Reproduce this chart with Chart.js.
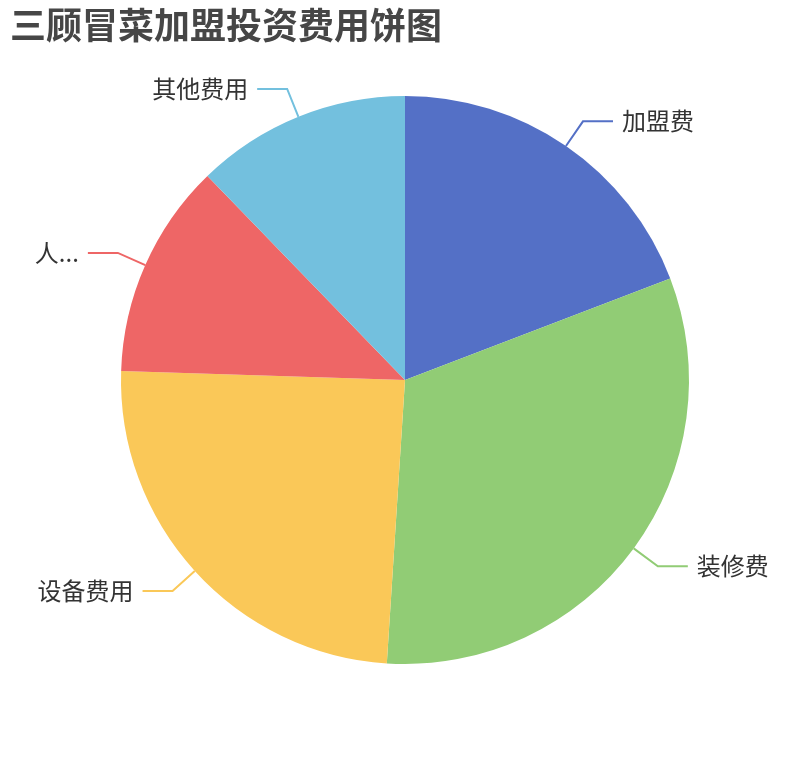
<!DOCTYPE html>
<html lang="zh-CN">
<head>
<meta charset="utf-8">
<title>三顾冒菜加盟投资费用饼图</title>
<script src="https://cdn.jsdelivr.net/npm/chart.js@4.4.1/dist/chart.umd.min.js"></script>
<style>
    html, body { margin: 0; padding: 0; background: #ffffff; }
    #wrap { width: 810px; height: 760px; }
</style>
</head>
<body>
<div id="wrap"><canvas id="pieChart" width="810" height="760"></canvas></div>
<script>
const chartTitle = '三顾冒菜加盟投资费用饼图';
const categories = ['加盟费', '装修费', '设备费用', '人员费用', '其他费用'];
const costValues = [4.7, 7.8, 6, 3, 3];
const sliceColors = ['#5470c6', '#91cc75', '#fac858', '#ee6666', '#73c0de'];

const FONT = '"Noto Sans CJK SC", "Noto Sans", sans-serif';
const LINE_LEN1 = 30;
const LINE_LEN2 = 30;
const LABEL_GAP = 9;
const EDGE_MARGIN = 25;

// shorten a label with '...' when it does not fit next to the edge
function truncate(ctx, text, maxWidth) {
    if (ctx.measureText(text).width <= maxWidth) return text;
    let s = text;
    while (s.length > 1 && ctx.measureText(s + '...').width > maxWidth) {
        s = s.slice(0, -1);
    }
    return s + '...';
}

// outside labels with two-segment leader lines
const outsideLabels = {
    id: 'outsideLabels',
    afterDatasetsDraw(chart) {
        const ctx = chart.ctx;
        const meta = chart.getDatasetMeta(0);

        ctx.save();
        ctx.font = '24px ' + FONT;
        ctx.textBaseline = 'middle';
        ctx.lineWidth = 2;

        meta.data.forEach((arc, i) => {
            const { x, y, startAngle, endAngle, outerRadius } = arc.getProps(
                ['x', 'y', 'startAngle', 'endAngle', 'outerRadius'],
                true
            );
            const mid = (startAngle + endAngle) / 2;
            const cos = Math.cos(mid);
            const sin = Math.sin(mid);

            const x1 = x + cos * outerRadius;
            const y1 = y + sin * outerRadius;
            const x2 = x + cos * (outerRadius + LINE_LEN1);
            const y2 = y + sin * (outerRadius + LINE_LEN1);
            const right = cos >= 0;
            const x3 = x2 + (right ? LINE_LEN2 : -LINE_LEN2);

            ctx.strokeStyle = sliceColors[i];
            ctx.beginPath();
            ctx.moveTo(x1, y1);
            ctx.lineTo(x2, y2);
            ctx.lineTo(x3, y2);
            ctx.stroke();

            const textX = right ? x3 + LABEL_GAP : x3 - LABEL_GAP;
            const avail = right
                ? chart.width - textX - EDGE_MARGIN
                : textX - EDGE_MARGIN;

            ctx.fillStyle = '#333333';
            ctx.textAlign = right ? 'left' : 'right';
            ctx.fillText(truncate(ctx, categories[i], avail), textX, y2);
        });

        ctx.restore();
    },
};

const titleFontSize = 36;
const titlePadding = { top: 4, bottom: 10 };
const titleHeight = titleFontSize * 1.2 + titlePadding.top + titlePadding.bottom;

new Chart(document.getElementById('pieChart'), {
    type: 'pie',
    data: {
        labels: categories,
        datasets: [
            {
                data: costValues,
                backgroundColor: sliceColors,
                borderWidth: 0,
                hoverOffset: 0,
            },
        ],
    },
    options: {
        responsive: false,
        animation: false,
        radius: 284,
        layout: {
            padding: {
                top: 0,
                left: 10,
                right: 10,
                bottom: titleHeight,
            },
        },
        plugins: {
            legend: { display: false },
            tooltip: { enabled: false },
            title: {
                display: true,
                text: chartTitle,
                align: 'start',
                color: '#464646',
                padding: titlePadding,
                font: {
                    family: FONT,
                    size: titleFontSize,
                    weight: 'bold',
                },
            },
        },
    },
    plugins: [outsideLabels],
});
</script>
</body>
</html>
